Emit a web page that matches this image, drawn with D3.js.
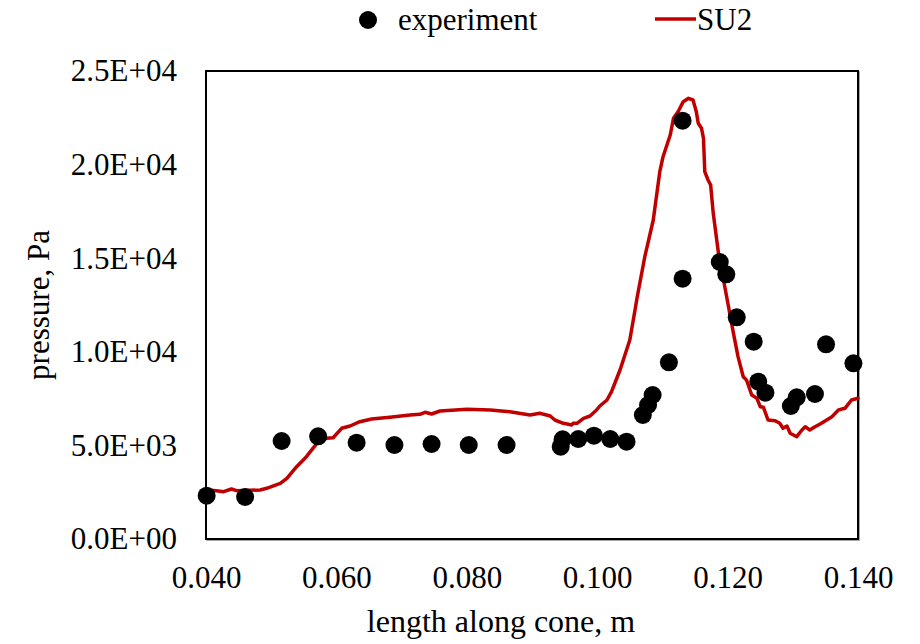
<!DOCTYPE html>
<html>
<head>
<meta charset="utf-8">
<script src="https://cdn.jsdelivr.net/npm/d3@7"></script>
<style>
  html, body { margin: 0; padding: 0; background: #fff; }
  svg { display: block; }
  text { font-family: "Liberation Serif", "Times New Roman", serif; fill: #000; }
</style>
</head>
<body>
<svg id="chart" width="920" height="644"></svg>
<script>
// ---- data ----
const expX = [0.0401, 0.0460, 0.0516, 0.0572, 0.0631, 0.0689, 0.0746, 0.0803, 0.0861,
              0.0944, 0.0947, 0.0971, 0.0995, 0.1020, 0.1045, 0.1070, 0.1078, 0.1085,
              0.1110, 0.1131, 0.1131, 0.1188, 0.1198, 0.1214, 0.1240, 0.1247, 0.1258,
              0.1297, 0.1306, 0.1334, 0.1351, 0.1393];
const expP = [2313, 2244, 5235, 5486, 5144, 5021, 5075, 5021, 5021,
              4931, 5326, 5342, 5518, 5342, 5198, 6624, 7158, 7692,
              9439, 22345, 13905, 14797, 14140, 11843, 10540, 8403, 7815,
              7105, 7569, 7746, 10400, 9386];

const su2X = [0.0401, 0.0416, 0.0427, 0.0439, 0.0447, 0.0483, 0.0493, 0.0514, 0.0524,
              0.0539, 0.0554, 0.0570, 0.0585, 0.0595, 0.0608, 0.0621, 0.0636, 0.0654,
              0.0682, 0.0713, 0.0728, 0.0736, 0.0746, 0.0759, 0.0800, 0.0836, 0.0866,
              0.0897, 0.0912, 0.0928, 0.0935, 0.0948, 0.0961, 0.0963, 0.0969, 0.0979,
              0.0989, 0.0999, 0.1004, 0.1015, 0.1022, 0.1029, 0.1035, 0.1050, 0.1058,
              0.1061, 0.1073, 0.1086, 0.1096, 0.1101, 0.1112, 0.1117, 0.1124, 0.1132,
              0.1140, 0.1147, 0.1152, 0.1155, 0.1160, 0.1163, 0.1165, 0.1170, 0.1174,
              0.1178, 0.1186, 0.1199, 0.1209, 0.1216, 0.1224, 0.1229, 0.1237, 0.1245,
              0.1250, 0.1255, 0.1262, 0.1273, 0.1280, 0.1285, 0.1291, 0.1296, 0.1306,
              0.1314, 0.1319, 0.1326, 0.1334, 0.1342, 0.1352, 0.1360, 0.1370, 0.1380,
              0.1390, 0.1400];
const su2P = [2618, 2580, 2527, 2671, 2580, 2618, 2708, 2975, 3243,
              3862, 4397, 5112, 5379, 5411, 5913, 6036, 6266, 6410,
              6501, 6624, 6661, 6768, 6677, 6838, 6928, 6891, 6800,
              6624, 6715, 6571, 6357, 6180, 6090, 6180, 6180, 6447,
              6571, 6891, 7105, 7425, 7869, 8494, 9028, 10630, 12233,
              12858, 15080, 17041, 19621, 20422, 21581, 22473, 22826, 23361,
              23542, 23451, 22826, 22206, 21938, 21405, 19621, 19177, 18910,
              17399, 15262, 12858, 10988, 9740, 8670, 8494, 7692, 7516,
              7067, 7035, 6357, 6320, 6180, 5913, 6036, 5646, 5465,
              5823, 5999, 5823, 5999, 6143, 6357, 6533, 6891, 6982,
              7425, 7516];

const xTickValues = [0.04, 0.06, 0.08, 0.10, 0.12, 0.14];
const xTickLabels = ["0.040", "0.060", "0.080", "0.100", "0.120", "0.140"];
const yTickValues = [0, 5000, 10000, 15000, 20000, 25000];
const yTickLabels = ["0.0E+00", "5.0E+03", "1.0E+04", "1.5E+04", "2.0E+04", "2.5E+04"];

const seriesNames = ["experiment", "SU2"];
const xTitle = "length along cone, m";
const yTitle = "pressure, Pa";

// ---- layout ----
const plot = { left: 206, top: 71, right: 858, bottom: 539 };
const FS = 31;
const RED = "#C00000";

const svg = d3.select("#chart");
const x = d3.scaleLinear().domain([0.04, 0.14]).range([plot.left, plot.right]);
const y = d3.scaleLinear().domain([0, 25000]).range([plot.bottom, plot.top]);

// frame (with a faint shadow like the original)
svg.append("rect")
  .attr("x", plot.left + 1).attr("y", plot.top + 1)
  .attr("width", plot.right - plot.left).attr("height", plot.bottom - plot.top)
  .attr("fill", "none").attr("stroke", "#888").attr("stroke-width", 1.5);
svg.append("rect")
  .attr("x", plot.left).attr("y", plot.top)
  .attr("width", plot.right - plot.left).attr("height", plot.bottom - plot.top)
  .attr("fill", "#fff").attr("stroke", "#000").attr("stroke-width", 2);

// axes (labels only, no tick marks / domain lines)
const xAxis = d3.axisBottom(x).tickValues(xTickValues)
  .tickFormat((d, i) => xTickLabels[i]).tickSize(0).tickPadding(27);
const gx = svg.append("g").attr("transform", `translate(0,${plot.bottom})`).call(xAxis);
gx.select(".domain").remove();
gx.selectAll("text").attr("font-size", FS).attr("font-family", "Liberation Serif, serif").attr("fill", "#000");

const yAxis = d3.axisLeft(y).tickValues(yTickValues)
  .tickFormat((d, i) => yTickLabels[i]).tickSize(0).tickPadding(29);
const gy = svg.append("g").attr("transform", `translate(${plot.left},0)`).call(yAxis);
gy.select(".domain").remove();
gy.selectAll("text").attr("font-size", FS).attr("font-family", "Liberation Serif, serif").attr("fill", "#000");

// SU2 line
const su2 = su2X.map((v, i) => [v, su2P[i]]);
svg.append("path")
  .datum(su2)
  .attr("d", d3.line().x(d => x(d[0])).y(d => y(d[1])).curve(d3.curveLinear))
  .attr("fill", "none").attr("stroke", RED).attr("stroke-width", 3.5)
  .attr("stroke-linejoin", "round").attr("stroke-linecap", "round");

// experiment points
const exp = expX.map((v, i) => [v, expP[i]]);
svg.append("g").selectAll("circle").data(exp).join("circle")
  .attr("cx", d => x(d[0])).attr("cy", d => y(d[1])).attr("r", 9)
  .attr("fill", "#000");

// axis titles
svg.append("text")
  .attr("x", 501).attr("y", 632)
  .attr("text-anchor", "middle").attr("font-size", 32).text(xTitle);
svg.append("text")
  .attr("transform", "translate(49,305) rotate(-90)")
  .attr("text-anchor", "middle").attr("font-size", FS).text(yTitle);

// legend
const lg = svg.append("g");
lg.append("circle").attr("cx", 368).attr("cy", 20).attr("r", 9).attr("fill", "#000");
lg.append("text").attr("x", 398).attr("y", 30).attr("font-size", FS).text(seriesNames[0]);
lg.append("line").attr("x1", 655).attr("x2", 696).attr("y1", 19).attr("y2", 19)
  .attr("stroke", RED).attr("stroke-width", 3.5);
lg.append("text").attr("x", 697).attr("y", 30).attr("font-size", FS).text(seriesNames[1]);
</script>
</body>
</html>
